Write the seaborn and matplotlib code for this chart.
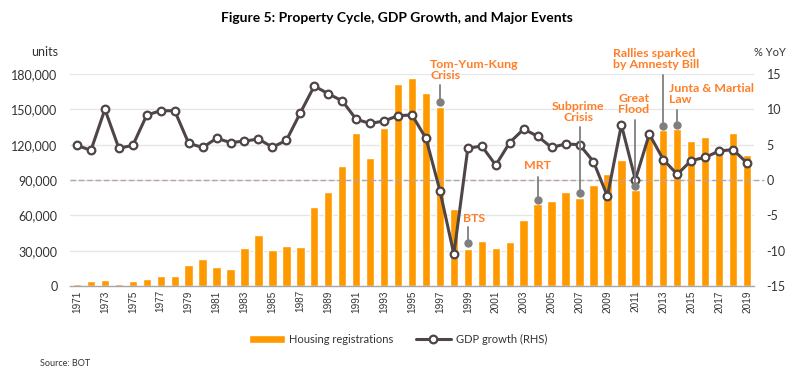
import numpy as np
import pandas as pd
import matplotlib
matplotlib.use("Agg")
import matplotlib.pyplot as plt
import seaborn as sns

years = list(range(1971, 2020))
housing = [2000, 4250, 4800, 2000, 4250, 6200, 8200, 8800, 18100, 23000,
           16200, 14200, 32300, 43700, 30300, 33700, 33200, 67200, 80000, 102000,
           129800, 108300, 133800, 171500, 176900, 164100, 152000, 65800, 31750, 38300,
           32300, 37700, 55800, 69500, 72000, 80000, 75100, 85600, 95000, 106900,
           81900, 125300, 132700, 133200, 123400, 126200, 116000, 130200, 111500]
gdp = [4.9, 4.2, 10.0, 4.5, 4.9, 9.2, 9.8, 9.8, 5.2, 4.6,
       5.9, 5.3, 5.5, 5.8, 4.65, 5.6, 9.5, 13.3, 12.2, 11.2,
       8.6, 8.0, 8.35, 9.1, 9.2, 5.9, -1.5, -10.5, 4.5, 4.8,
       2.1, 5.3, 7.2, 6.2, 4.6, 5.1, 5.0, 2.6, -2.3, 7.8,
       0.05, 6.5, 2.9, 0.8, 2.75, 3.2, 4.1, 4.3, 2.4]

events = ["Tom-Yum-Kung\nCrisis", "BTS", "MRT", "Subprime\nCrisis", "Great\nFlood",
          "Rallies sparked\nby Amnesty Bill", "Junta & Martial\nLaw"]
event_years = [1997, 1999, 2004, 2007, 2011, 2013, 2014]
event_dot = [11.1, -8.9, -2.9, -1.8, -0.85, 7.6, 7.8]
event_top = [13.45, -6.6, 0.43, 7.5, 8.5, 14.9, 9.9]
event_text_x = [1996.3, 1999.45, 2004.0, 2006.9, 2010.9, 2009.37, 2013.43]
event_text_y = [15.6, -5.4, 2.1, 9.6, 10.75, 17.1, 12.2]
event_ha = ["left", "center", "center", "center", "center", "left", "left"]

df = pd.DataFrame({"year": years, "housing": housing, "gdp": gdp})

sns.set_style("white")
plt.rcParams["font.family"] = ["Lato", "DejaVu Sans"]

BAR = "#FF9900"
LINE = "#4F4446"
ANN = "#FF7F27"

fig = plt.figure(figsize=(8.10, 3.77), dpi=100)
ax = fig.add_axes([70 / 810, 1 - 286 / 377, 684 / 810, 212 / 377])

sns.barplot(data=df, x="year", y="housing", native_scale=True, color=BAR,
            saturation=1, width=0.6, ax=ax, zorder=2, label="Housing registrations")
if ax.get_legend() is not None:
    ax.get_legend().remove()
ax.set_xlim(1970.5, 2019.5)
ax.set_ylim(0, 180000)
ax.set_yticks(np.arange(0, 180001, 30000))
ax.set_yticklabels([f"{v:,}" for v in range(0, 180001, 30000)], fontsize=9, color="#333333")
ax.set_xticks(years[::2])
ax.set_xticklabels([str(y) for y in years[::2]], rotation=90, fontsize=7.2,
                   family=["Liberation Sans", "DejaVu Sans"], color="#333333")
ax.tick_params(axis="y", length=0, pad=9)
ax.tick_params(axis="x", length=0, pad=3)
ax.set_xlabel("")
ax.set_ylabel("")
for v in range(30000, 180001, 30000):
    ax.axhline(v, color="#E6E6E6", lw=1, zorder=0)
for s in ["top", "right", "left"]:
    ax.spines[s].set_visible(False)
ax.spines["bottom"].set_color("#A6A6A6")
ax.spines["bottom"].set_linewidth(1)

ax2 = ax.twinx()
ax2.set_ylim(-15, 15)
ax2.plot([1970.5, 2020.2], [0, 0], color="#B8A4A4", lw=1, ls=(0, (4, 2)), zorder=1,
         clip_on=False)
sns.lineplot(data=df, x="year", y="gdp", ax=ax2, color=LINE, lw=2.2, marker="o",
             markersize=5.5, markerfacecolor="white", markeredgecolor=LINE,
             markeredgewidth=1.6, zorder=4, label="GDP growth (RHS)", legend=False)
ax2.set_yticks(np.arange(-15, 16, 5))
ax2.set_yticklabels([str(v) for v in range(-15, 16, 5)], fontsize=9, color="#333333")
ax2.tick_params(axis="y", length=0, pad=9)
ax2.set_ylabel("")
ax2.set_xlim(1970.5, 2019.5)
for s in ["top", "right", "left", "bottom"]:
    ax2.spines[s].set_visible(False)

for txt, yr, d, t, tx, ty, ha in zip(events, event_years, event_dot, event_top,
                                       event_text_x, event_text_y, event_ha):
    ax2.plot([yr, yr], [d, t], color="#7F7F7F", lw=1.3, zorder=5, clip_on=False)
    ax2.plot([yr], [d], "o", color="#7F7F7F", markersize=5, zorder=5, clip_on=False)
    ax2.text(tx, ty, txt, ha=ha, va="center", color=ANN, fontsize=8.9,
             fontweight="bold", linespacing=1.05, zorder=6, clip_on=False)

fig.text(58 / 810, 1 - 52 / 377, "units", ha="right", va="center", fontsize=9, color="#333333")
fig.text(770 / 810, 1 - 52 / 377, "% YoY", ha="center", va="center", fontsize=8, color="#333333")
fig.text(397 / 810, 1 - 18 / 377, "Figure 5: Property Cycle, GDP Growth, and Major Events",
         ha="center", va="center", fontsize=10, fontweight="bold", color="black")

h1, l1 = ax.get_legend_handles_labels()
h2, l2 = ax2.get_legend_handles_labels()
leg = fig.legend(h1 + h2, l1 + l2, loc="center", bbox_to_anchor=(398 / 810, 1 - 339 / 377),
                 ncol=2, frameon=False, fontsize=8, handlelength=3.2, columnspacing=2.0,
                 handletextpad=0.4)
for t in leg.get_texts():
    t.set_color("#333333")

fig.text(40 / 810, 1 - 364 / 377, "Source: BOT", ha="left", va="center", fontsize=6.5,
         color="#333333")

fig.savefig("out.png", dpi=100)
